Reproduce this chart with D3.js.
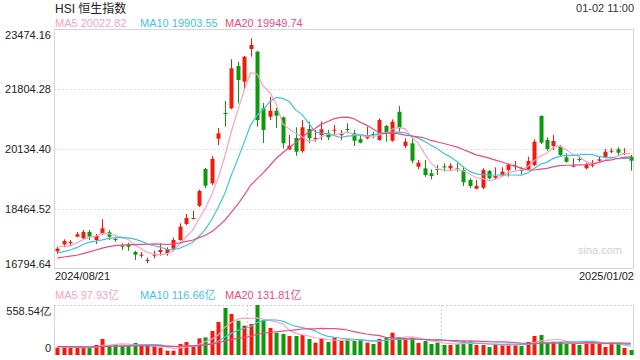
<!DOCTYPE html>
<html>
<head>
<meta charset="utf-8">
<script src="https://cdn.jsdelivr.net/npm/d3@7"></script>
<style>
  body { margin: 0; background: #fff; }
  svg { display: block; font-family: "Liberation Sans", Arial, "Noto Sans CJK SC", sans-serif; }
</style>
</head>
<body>
<svg id="chart" width="640" height="360"></svg>
<script>
// closes / volumes before the first visible day, only feed the moving averages
const priorCloses = [17005, 17021, 17304, 16945, 16698, 16647, 16877, 16891, 17090, 17112,
  17174, 17113, 17109, 16950, 17019, 17430, 17569, 17285, 17391];
const priorVolumes = [95, 102, 88, 110, 97, 85, 92, 99, 90, 96, 94, 91, 98, 89, 95, 97, 93, 99, 96];

// daily candles, 2024/08/21 .. 2025/01/02
const opens = [17287, 17482, 17529, 17694, 17649, 17824, 17602, 17788, 17816, 17630,
  17443, 17462, 17268, 17176, 17028, 17170, 17268, 17231, 17360, 17602,
  18047, 18194, 18556, 19578, 19180, 20421, 21136, 21267, 22444, 22007,
  22917, 22842, 21267, 21033, 21200, 21017, 20126, 20440, 20079, 20691,
  20424, 20524, 20571, 20655, 20535, 20691, 20571, 20404, 20432, 20552,
  20385, 20775, 20365, 21172, 20218, 20293, 19642, 19597, 19458, 19578,
  19650, 19597, 19594, 19550, 19272, 19030, 19057, 19522, 19336, 19411,
  19550, 19653, 19558, 19569, 19689, 21053, 20385, 20218, 20198, 19903,
  19653, 19856, 19597, 19681, 19809, 19903, 20070, 20126, 20006, 19920];
const highs = [17407, 17621, 17602, 17824, 17880, 17880, 17769, 18178, 17880, 17694,
  17510, 17527, 17304, 17268, 17109, 17304, 17510, 17399, 17666, 18066,
  18325, 18417, 19007, 19606, 19940, 20719, 21470, 22631, 22564, 22723,
  23215, 22870, 21414, 21590, 21275, 21033, 20524, 20738, 20941, 20894,
  20663, 20894, 20663, 20802, 20663, 20850, 20663, 20524, 20755, 20616,
  20989, 20802, 20961, 21331, 20432, 20432, 19828, 19828, 19569, 19689,
  19736, 19736, 19736, 19642, 19319, 19272, 19597, 19550, 19625, 19625,
  19736, 19800, 19642, 19920, 20404, 21070, 20460, 20524, 20246, 20015,
  19875, 19920, 19753, 19828, 19920, 20134, 20154, 20182, 20154, 19967];
const lows = [17212, 17399, 17435, 17685, 17602, 17602, 17490, 17741, 17602, 17554,
  17323, 17304, 17045, 17109, 16953, 17092, 17165, 17165, 17343, 17582,
  18019, 18178, 18520, 19049, 19132, 20246, 20755, 21239, 21406, 21776,
  22703, 20755, 20301, 20941, 20719, 20154, 20107, 19948, 20031, 20293,
  20337, 20385, 20385, 20524, 20385, 20571, 20218, 20293, 20404, 20432,
  20365, 20337, 20337, 20616, 20154, 19736, 19569, 19363, 19291, 19411,
  19503, 19530, 19503, 19105, 19041, 19013, 19013, 19291, 19291, 19363,
  19363, 19550, 19430, 19550, 19661, 20274, 20087, 20107, 19940, 19753,
  19625, 19781, 19569, 19625, 19753, 19875, 20015, 19967, 19967, 19530];
const closes = [17360, 17574, 17546, 17760, 17824, 17694, 17713, 17927, 17694, 17613,
  17426, 17415, 17193, 17193, 17045, 17193, 17323, 17351, 17602, 17972,
  18214, 18214, 18965, 19113, 19856, 20571, 21117, 22380, 22055, 22703,
  23029, 20941, 20663, 21200, 21061, 20293, 20226, 20059, 20738, 20432,
  20440, 20683, 20460, 20672, 20552, 20674, 20365, 20310, 20496, 20535,
  20941, 20588, 20894, 20710, 20337, 19809, 19753, 19411, 19383, 19561,
  19633, 19670, 19578, 19208, 19105, 19105, 19550, 19319, 19383, 19503,
  19689, 19670, 19541, 19800, 20337, 20310, 20134, 20357, 19967, 19781,
  19670, 19839, 19689, 19697, 19847, 20059, 20087, 20031, 20023, 19809];
// turnover, 亿
const volumes = [82, 84, 80, 83, 82, 81, 112, 179, 104, 119,
  104, 104, 134, 112, 104, 93, 82, 48, 48, 123,
  145, 97, 186, 197, 268, 369, 525, 458, 383, 328,
  346, 558.54, 391, 302, 249, 235, 212, 212, 223, 179,
  138, 179, 145, 190, 160, 175, 156, 175, 138, 123,
  179, 194, 249, 201, 175, 194, 134, 156, 123, 138,
  112, 112, 123, 153, 153, 112, 112, 89, 119, 112,
  119, 112, 100, 145, 212, 223, 141, 145, 145, 123,
  123, 112, 145, 156, 123, 89, 138, 123, 78, 56];

const priceTicks = [23474.16, 21804.28, 20134.40, 18464.52, 16794.64];
const volTicks = [558.54, 0];
const dateLabels = ["2024/08/21", "2025/01/02"];
const maLabels = ["MA5 20022.82", "MA10 19903.55", "MA20 19949.74"];
const volMaLabels = ["MA5 97.93亿", "MA10 116.66亿", "MA20 131.81亿"];

const UP = "#f21a0c", DOWN = "#0c9a0c";
const maColors = ["#f7a3c3", "#3ec4e2", "#ec4a80"];
const maDays = [5, 10, 20];

const svg = d3.select("#chart");
const left = 54, right = 634;

const x = d3.scalePoint().domain(d3.range(closes.length)).range([left, right]).padding(0.5);
const y = d3.scaleLinear().domain([priceTicks[4], priceTicks[0]]).range([269, 29]);
const yv = d3.scaleLinear().domain([0, volTicks[0]]).range([355, 305]);

function movingAvg(prior, values, n) {
  const all = prior.concat(values);
  return values.map((_, i) => {
    const end = i + prior.length + 1;
    return d3.mean(all.slice(end - n, end));
  });
}

// header
svg.append("text").attr("x", 55).attr("y", 13).attr("font-size", 12).attr("fill", "#222")
  .text("HSI 恒生指数");
svg.append("text").attr("x", 634).attr("y", 12).attr("text-anchor", "end")
  .attr("font-size", 11).attr("fill", "#333").text("01-02 11:00");

const legendX = [55, 140, 225];
maLabels.forEach((t, i) => {
  svg.append("text").attr("x", legendX[i]).attr("y", 27).attr("font-size", 11)
    .attr("fill", maColors[i]).text(t);
});

// price panel frame + grid
const g = svg.append("g");
g.append("rect").attr("x", left + 0.5).attr("y", 29.5).attr("width", right - left - 1).attr("height", 239)
  .attr("fill", "none").attr("stroke", "#d6d6d6");
priceTicks.slice(1, 4).forEach(t => {
  g.append("line").attr("x1", left).attr("x2", right)
    .attr("y1", Math.round(y(t)) + 0.5).attr("y2", Math.round(y(t)) + 0.5)
    .attr("stroke", "#dedede").attr("stroke-dasharray", "2,2");
});

const yAxis = svg.append("g").attr("transform", `translate(${left - 3},0)`)
  .call(d3.axisLeft(y).tickValues(priceTicks).tickFormat(d3.format(".2f")).tickSize(0).tickPadding(0));
yAxis.select(".domain").remove();
yAxis.selectAll("text").attr("font-size", 11).attr("fill", "#222")
  .attr("font-family", null)
  .attr("dy", (d, i) => i === 0 ? "0.32em" : i === 4 ? "0.32em" : "0.32em")
  .attr("transform", (d, i) => i === 0 ? "translate(0,6)" : i === 4 ? "translate(0,-5)" : null);

svg.append("text").attr("x", 55).attr("y", 280).attr("font-size", 11).attr("fill", "#222").text(dateLabels[0]);
svg.append("text").attr("x", 634).attr("y", 280).attr("text-anchor", "end").attr("font-size", 11)
  .attr("fill", "#222").text(dateLabels[1]);
svg.append("text").attr("x", 622).attr("y", 254).attr("text-anchor", "end").attr("font-size", 11)
  .attr("fill", "#cfcfcf").text("sina.com");

// candles
const candles = g.selectAll("g.candle").data(closes).enter().append("g").attr("class", "candle");
const isUp = i => closes[i] >= opens[i];
candles.append("line")
  .attr("x1", (d, i) => Math.round(x(i)) + 0.5).attr("x2", (d, i) => Math.round(x(i)) + 0.5)
  .attr("y1", (d, i) => y(highs[i])).attr("y2", (d, i) => y(lows[i]))
  .attr("stroke", (d, i) => isUp(i) ? UP : DOWN);
candles.append("rect")
  .attr("x", (d, i) => Math.round(x(i)) - 1.5)
  .attr("width", 4)
  .attr("y", (d, i) => y(Math.max(opens[i], closes[i])))
  .attr("height", (d, i) => Math.max(1, Math.abs(y(opens[i]) - y(closes[i]))))
  .attr("fill", (d, i) => isUp(i) ? UP : DOWN);

maDays.forEach((n, k) => {
  const ma = movingAvg(priorCloses, closes, n);
  g.append("path").datum(ma).attr("fill", "none").attr("stroke", maColors[k]).attr("stroke-width", 1.2)
    .attr("d", d3.line().x((d, i) => x(i)).y(d => y(d)));
});

// volume panel
volMaLabels.forEach((t, i) => {
  svg.append("text").attr("x", legendX[i]).attr("y", 299).attr("font-size", 11)
    .attr("fill", maColors[i]).text(t);
});

const gv = svg.append("g");
[305.5, 354.5].forEach(yy => {
  gv.append("line").attr("x1", left).attr("x2", right).attr("y1", yy).attr("y2", yy)
    .attr("stroke", "#d0d0d0").attr("stroke-dasharray", "2,2");
});
[left + 0.5, right - 0.5].forEach(xx => {
  gv.append("line").attr("x1", xx).attr("x2", xx).attr("y1", 305).attr("y2", 355).attr("stroke", "#d6d6d6");
});
[1, 2].forEach(k => {
  const xx = Math.round(left + (right - left) * k / 3) + 0.5;
  gv.append("line").attr("x1", xx).attr("x2", xx).attr("y1", 305).attr("y2", 355)
    .attr("stroke", "#d0d0d0").attr("stroke-dasharray", "2,2");
});

const vAxis = svg.append("g").attr("transform", `translate(${left - 3},0)`)
  .call(d3.axisLeft(yv).tickValues(volTicks).tickFormat(d => d === 0 ? "0" : d3.format(".2f")(d) + "亿")
    .tickSize(0).tickPadding(0));
vAxis.select(".domain").remove();
vAxis.selectAll("text").attr("font-size", 11).attr("fill", "#222").attr("font-family", null)
  .attr("transform", (d, i) => i === 0 ? "translate(0,6)" : "translate(0,-7)");

gv.selectAll("rect.vol").data(volumes).enter().append("rect").attr("class", "vol")
  .attr("x", (d, i) => Math.round(x(i)) - 1.5)
  .attr("width", 4)
  .attr("y", d => yv(d))
  .attr("height", d => 355 - yv(d))
  .attr("fill", (d, i) => isUp(i) ? UP : DOWN);

maDays.forEach((n, k) => {
  const ma = movingAvg(priorVolumes, volumes, n);
  gv.append("path").datum(ma).attr("fill", "none").attr("stroke", maColors[k]).attr("stroke-width", 1.2)
    .attr("d", d3.line().x((d, i) => x(i)).y(d => yv(d)));
});
</script>
</body>
</html>
